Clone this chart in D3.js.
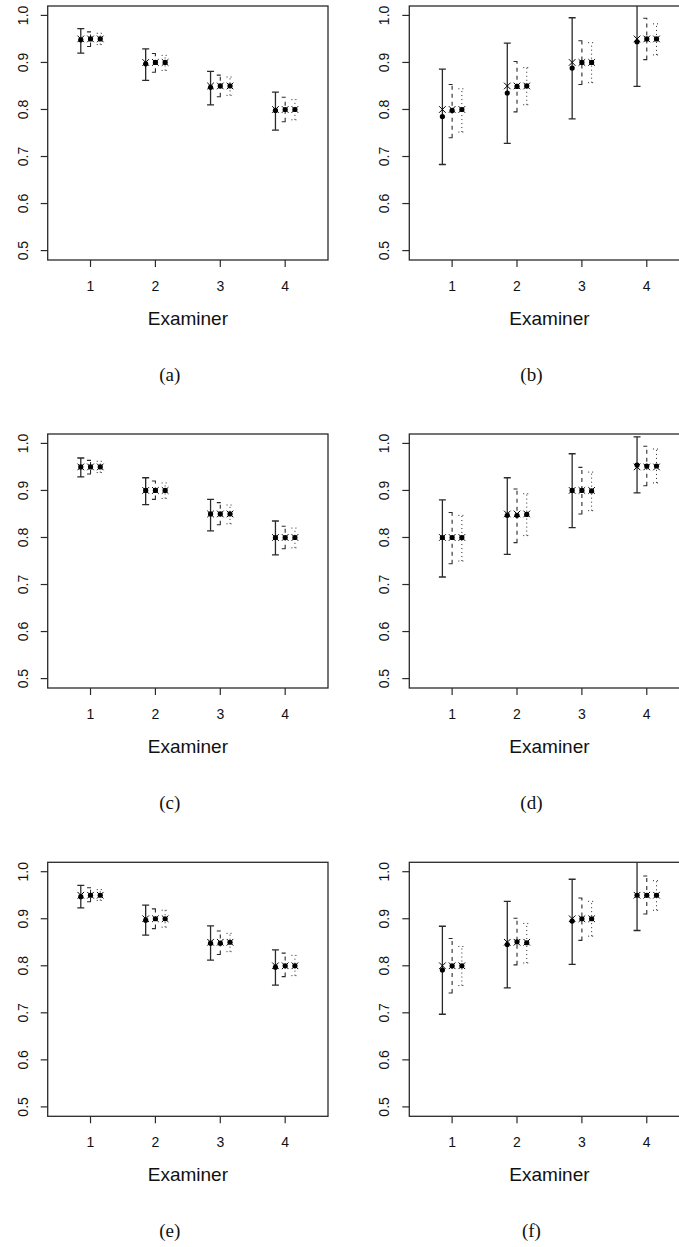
<!DOCTYPE html>
<html>
<head>
<meta charset="utf-8">
<script src="https://cdn.jsdelivr.net/npm/d3@7"></script>
<style>
  body { margin: 0; background: #fff; }
  svg { display: block; }
  .tick-lab { font-family: "Liberation Sans", Arial, sans-serif; font-size: 14px; fill: #111; }
  .ax-title { font-family: "Liberation Sans", Arial, sans-serif; font-size: 19px; fill: #111; }
  .panel-lab { font-family: "Liberation Serif", "Times New Roman", serif; font-size: 19px; fill: #111; }
</style>
</head>
<body>
<svg width="679" height="1247"></svg>
<script>
// examiners on x, tick labels, captions
var examiners = [1, 2, 3, 4];
var yTicks = [0.5, 0.6, 0.7, 0.8, 0.9, 1.0];
var panelLabels = ['(a)', '(b)', '(c)', '(d)', '(e)', '(f)'];

// true values (crosses)
var truthDown = [0.95, 0.90, 0.85, 0.80];
var truthUp = [0.80, 0.85, 0.90, 0.95];

// estimates (dots) and interval ends, one row per method
var estA = [[0.948, 0.897, 0.847, 0.798], [0.95, 0.90, 0.85, 0.80], [0.95, 0.90, 0.85, 0.80]];
var loA  = [[0.920, 0.862, 0.810, 0.756], [0.934, 0.879, 0.827, 0.774], [0.938, 0.883, 0.830, 0.778]];
var hiA  = [[0.972, 0.929, 0.881, 0.837], [0.965, 0.919, 0.873, 0.826], [0.962, 0.915, 0.869, 0.821]];

var estB = [[0.785, 0.835, 0.888, 0.944], [0.798, 0.849, 0.90, 0.95], [0.80, 0.85, 0.90, 0.95]];
var loB  = [[0.683, 0.728, 0.780, 0.849], [0.740, 0.795, 0.853, 0.906], [0.752, 0.810, 0.857, 0.916]];
var hiB  = [[0.886, 0.941, 0.995, 1.039], [0.853, 0.902, 0.946, 0.994], [0.844, 0.889, 0.942, 0.982]];

var estC = [[0.95, 0.90, 0.85, 0.80], [0.95, 0.90, 0.85, 0.80], [0.95, 0.90, 0.85, 0.80]];
var loC  = [[0.929, 0.870, 0.814, 0.763], [0.935, 0.881, 0.827, 0.776], [0.938, 0.883, 0.829, 0.778]];
var hiC  = [[0.969, 0.927, 0.881, 0.835], [0.964, 0.920, 0.874, 0.824], [0.962, 0.916, 0.869, 0.820]];

var estD = [[0.80, 0.847, 0.90, 0.954], [0.80, 0.847, 0.90, 0.952], [0.80, 0.849, 0.899, 0.952]];
var loD  = [[0.716, 0.764, 0.821, 0.895], [0.744, 0.789, 0.850, 0.910], [0.750, 0.804, 0.857, 0.916]];
var hiD  = [[0.880, 0.927, 0.978, 1.014], [0.853, 0.903, 0.949, 0.994], [0.847, 0.893, 0.939, 0.988]];

var estE = [[0.947, 0.897, 0.848, 0.797], [0.95, 0.90, 0.848, 0.80], [0.95, 0.90, 0.85, 0.80]];
var loE  = [[0.923, 0.865, 0.812, 0.759], [0.936, 0.879, 0.824, 0.777], [0.939, 0.882, 0.830, 0.779]];
var hiE  = [[0.971, 0.929, 0.885, 0.834], [0.966, 0.921, 0.874, 0.827], [0.962, 0.918, 0.869, 0.822]];

var estF = [[0.791, 0.845, 0.895, 0.95], [0.80, 0.851, 0.90, 0.95], [0.80, 0.849, 0.90, 0.95]];
var loF  = [[0.697, 0.753, 0.803, 0.875], [0.742, 0.802, 0.854, 0.910], [0.758, 0.806, 0.863, 0.918]];
var hiF  = [[0.884, 0.937, 0.984, 1.025], [0.858, 0.901, 0.944, 0.991], [0.841, 0.890, 0.937, 0.981]];

var panels = [
  {truth: truthDown, est: estA, lo: loA, hi: hiA},
  {truth: truthUp,   est: estB, lo: loB, hi: hiB},
  {truth: truthDown, est: estC, lo: loC, hi: hiC},
  {truth: truthUp,   est: estD, lo: loD, hi: hiD},
  {truth: truthDown, est: estE, lo: loE, hi: hiE},
  {truth: truthUp,   est: estF, lo: loF, hi: hiF}
];

var svg = d3.select('svg');

var boxW = 280.3, boxH = 254,
    colX = [47.7, 409.3],
    rowY = [6, 434, 862.3],
    offsets = [-0.15, 0, 0.15],
    dashes = [null, '4,4', '1,3'],
    widths = [1.3, 1.1, 1],
    capW = 3.5, ink = '#2a2a2a';

// R-style 4% padding around xlim c(0.5,4.5), ylim c(0.5,1)
var xScale = d3.scaleLinear().domain([0.34, 4.66]).range([0, boxW]),
    yScale = d3.scaleLinear().domain([0.48, 1.02]).range([boxH, 0]);

panels.forEach(function(p, i){
  var g = svg.append('g')
      .attr('transform', 'translate(' + colX[i % 2] + ',' + rowY[Math.floor(i / 2)] + ')');

  g.append('clipPath').attr('id', 'clip' + i)
    .append('rect').attr('width', boxW).attr('height', boxH);

  // axes
  var yAxis = g.append('g');
  yAxis.selectAll('line').data(yTicks).enter().append('line')
      .attr('x1', -7).attr('x2', 0)
      .attr('y1', function(d){ return yScale(d); })
      .attr('y2', function(d){ return yScale(d); })
      .attr('stroke', ink).attr('stroke-width', 1.2);
  yAxis.selectAll('text').data(yTicks).enter().append('text')
      .attr('class', 'tick-lab')
      .attr('text-anchor', 'middle')
      .attr('transform', function(d){ return 'translate(-20,' + yScale(d) + ') rotate(-90)'; })
      .text(function(d){ return d3.format('.1f')(d); });

  var xAxis = g.append('g').attr('transform', 'translate(0,' + boxH + ')');
  xAxis.selectAll('line').data(examiners).enter().append('line')
      .attr('x1', function(d){ return xScale(d); })
      .attr('x2', function(d){ return xScale(d); })
      .attr('y1', 0).attr('y2', 7)
      .attr('stroke', ink).attr('stroke-width', 1.2);
  xAxis.selectAll('text').data(examiners).enter().append('text')
      .attr('class', 'tick-lab')
      .attr('text-anchor', 'middle')
      .attr('x', function(d){ return xScale(d); })
      .attr('y', 31)
      .text(function(d){ return d; });

  g.append('text').attr('class', 'ax-title')
      .attr('text-anchor', 'middle')
      .attr('x', boxW / 2).attr('y', boxH + 65)
      .text('Examiner');

  g.append('text').attr('class', 'panel-lab')
      .attr('text-anchor', 'middle')
      .attr('x', boxW / 2 - 18).attr('y', boxH + 121)
      .text(panelLabels[i]);

  // error bars and points, clipped to the plot box
  var plot = g.append('g').attr('clip-path', 'url(#clip' + i + ')');

  offsets.forEach(function(off, s){
    var rows = examiners.map(function(e, k){
      return {x: e + off, truth: p.truth[k], est: p.est[s][k], lo: p.lo[s][k], hi: p.hi[s][k]};
    });

    var bars = plot.append('g')
        .attr('fill', 'none')
        .attr('stroke', ink)
        .attr('stroke-width', widths[s])
        .attr('stroke-dasharray', dashes[s]);

    bars.selectAll('path').data(rows).enter().append('path')
        .attr('d', function(d){
          var x = xScale(d.x), y0 = yScale(d.lo), y1 = yScale(d.hi);
          return 'M' + x + ',' + y0 + 'V' + y1 +
                 'M' + (x - capW) + ',' + y1 + 'H' + (x + capW) +
                 'M' + (x - capW) + ',' + y0 + 'H' + (x + capW);
        });

    plot.append('g').selectAll('circle').data(rows).enter().append('circle')
        .attr('cx', function(d){ return xScale(d.x); })
        .attr('cy', function(d){ return yScale(d.est); })
        .attr('r', 2.6)
        .attr('fill', '#000');

    plot.append('g').selectAll('path').data(rows).enter().append('path')
        .attr('d', function(d){
          var x = xScale(d.x), y = yScale(d.truth), r = 3.3;
          return 'M' + (x - r) + ',' + (y - r) + 'L' + (x + r) + ',' + (y + r) +
                 'M' + (x - r) + ',' + (y + r) + 'L' + (x + r) + ',' + (y - r);
        })
        .attr('stroke', '#000')
        .attr('stroke-width', 1)
        .attr('fill', 'none');
  });

  g.append('rect')
      .attr('width', boxW).attr('height', boxH)
      .attr('fill', 'none').attr('stroke', ink).attr('stroke-width', 1.3);
});
</script>
</body>
</html>
